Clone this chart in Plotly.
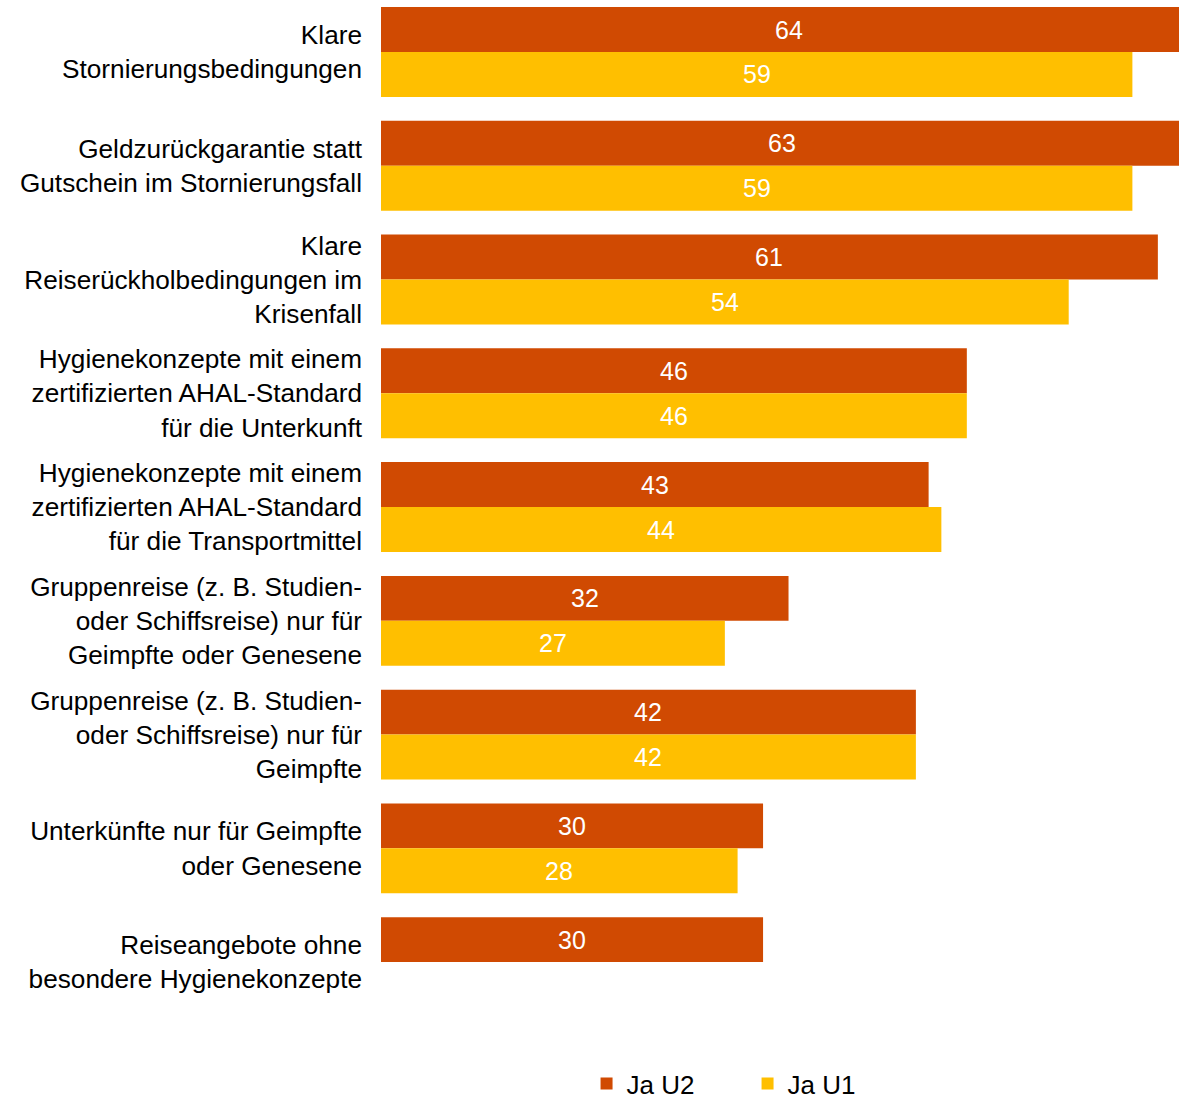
import plotly.graph_objects as go

categories = [
    "Klare<br>Stornierungsbedingungen",
    "Geldzurückgarantie statt<br>Gutschein im Stornierungsfall",
    "Klare<br>Reiserückholbedingungen im<br>Krisenfall",
    "Hygienekonzepte mit einem<br>zertifizierten AHAL-Standard<br>für die Unterkunft",
    "Hygienekonzepte mit einem<br>zertifizierten AHAL-Standard<br>für die Transportmittel",
    "Gruppenreise (z. B. Studien-<br>oder Schiffsreise) nur für<br>Geimpfte oder Genesene",
    "Gruppenreise (z. B. Studien-<br>oder Schiffsreise) nur für<br>Geimpfte",
    "Unterkünfte nur für Geimpfte<br>oder Genesene",
    "Reiseangebote ohne<br>besondere Hygienekonzepte",
]
ja_u2 = [64, 63, 61, 46, 43, 32, 42, 30, 30]
ja_u1 = [59, 59, 54, 46, 44, 27, 42, 28, None]

ORANGE = "#D04A02"
YELLOW = "#FFBF00"
FONT = "Liberation Sans, Arial, sans-serif"
bargap = 0.21
idx = list(range(len(categories)))

fig = go.Figure()
fig.add_trace(go.Bar(name="Ja U2", y=idx, x=ja_u2, orientation="h",
                     marker=dict(color=ORANGE, line=dict(width=0))))
fig.add_trace(go.Bar(name="Ja U1", y=idx, x=ja_u1, orientation="h",
                     marker=dict(color=YELLOW, line=dict(width=0))))

half = (1 - bargap) / 4
for series, off in ((ja_u2, -half), (ja_u1, half)):
    for i, v in enumerate(series):
        if v is None:
            continue
        fig.add_annotation(x=v / 2, y=i + off, text=str(v), showarrow=False,
                           font=dict(color="white", size=25, family=FONT),
                           xanchor="center", yanchor="middle")

fig.update_layout(
    width=1179, height=1107,
    margin=dict(l=381, r=0, t=0, b=88),
    plot_bgcolor="white", paper_bgcolor="white",
    barmode="group", bargap=bargap, bargroupgap=0,
    font=dict(family=FONT, size=26.2, color="black"),
    showlegend=True,
    legend=dict(orientation="h", xref="container", yref="container",
                x=0.4975, y=-0.005, xanchor="left", yanchor="bottom",
                font=dict(size=26), entrywidth=116, itemwidth=30,
                traceorder="normal"),
)
fig.update_xaxes(range=[0, 62.66], showticklabels=False, showgrid=False,
                 zeroline=False, showline=False)
fig.update_yaxes(range=[8.5, -0.457], tickvals=idx, ticktext=categories,
                 showgrid=False, zeroline=False, showline=False,
                 ticks="", ticklabelstandoff=18)

fig.write_html("out.html", config={"displayModeBar": False},
               post_script="document.body.style.margin='0';"
                           "document.body.style.overflow='hidden';")
